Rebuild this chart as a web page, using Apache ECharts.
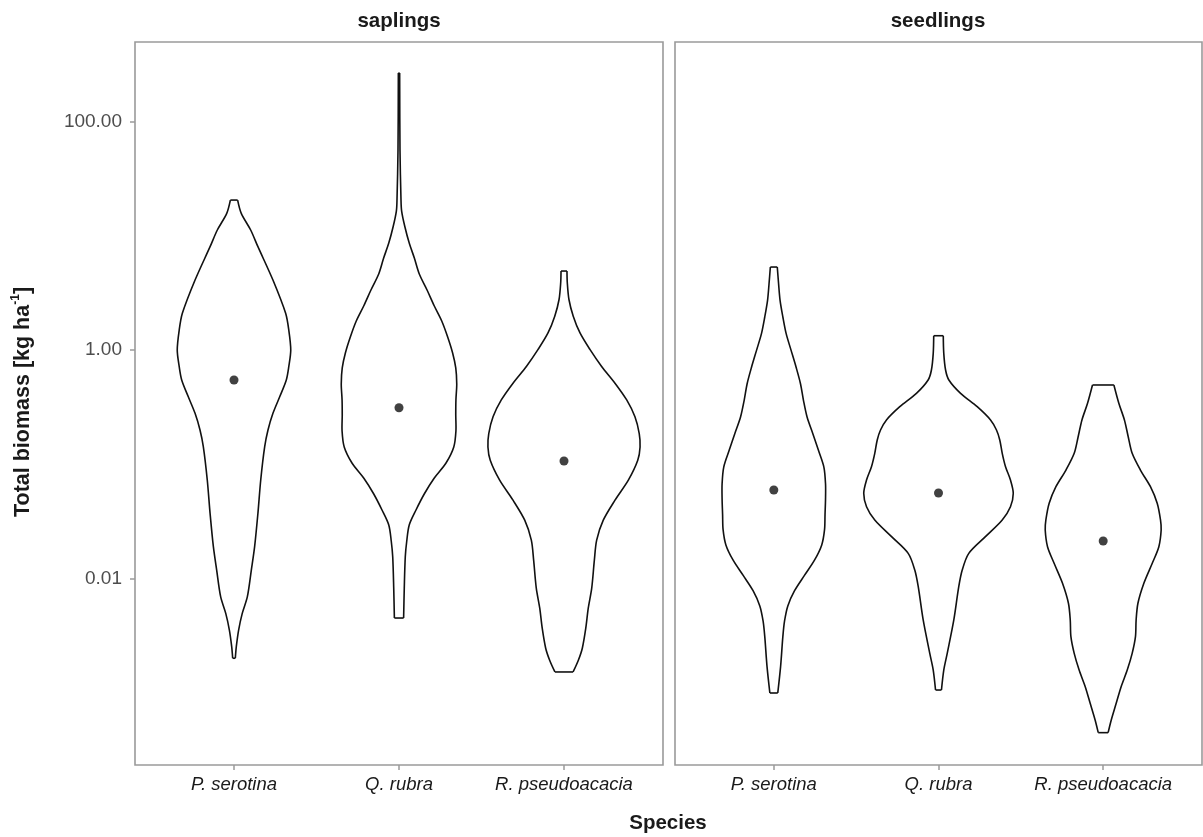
<!DOCTYPE html>
<html>
<head>
<meta charset="utf-8">
<script src="https://cdn.jsdelivr.net/npm/echarts@6/dist/echarts.min.js"></script>
<style>
  html, body { margin: 0; padding: 0; background: #fff; }
  #chart { width: 1203px; height: 837px; }
</style>
</head>
<body>
<div id="chart"></div>
<script>
// Species on the x axis of each facet
const speciesNames = ['P. serotina', 'Q. rubra', 'R. pseudoacacia'];
const panelTitles = ['saplings', 'seedlings'];
// Tick positions on the y axis, as log10 of biomass (0.01, 1, 100)
const yTickExponents = [-2, 0, 2];

// Violin outlines: [log10 biomass, half-width in category units], top to bottom
const saplingsSerotina = [
  [1.312, 0.022], [1.196, 0.044], [1.050, 0.101], [0.904, 0.145], [0.612, 0.236],
  [0.321, 0.313], [0.175, 0.332], [0.000, 0.344], [-0.146, 0.332], [-0.262, 0.317],
  [-0.409, 0.277], [-0.554, 0.236], [-0.700, 0.206], [-0.846, 0.186], [-1.137, 0.162],
  [-1.429, 0.145], [-1.721, 0.125], [-1.925, 0.105], [-2.158, 0.081], [-2.304, 0.050],
  [-2.450, 0.028], [-2.596, 0.014], [-2.697, 0.008]
];
const saplingsRubra = [
  [2.423, 0.004], [1.750, 0.006], [1.321, 0.012], [1.216, 0.016], [1.076, 0.036],
  [0.936, 0.062], [0.805, 0.093], [0.665, 0.123], [0.525, 0.170], [0.385, 0.214],
  [0.254, 0.259], [0.114, 0.295], [-0.026, 0.325], [-0.157, 0.344], [-0.297, 0.350],
  [-0.437, 0.345], [-0.569, 0.344], [-0.709, 0.345], [-0.849, 0.332], [-0.989, 0.285],
  [-1.120, 0.214], [-1.260, 0.153], [-1.400, 0.103], [-1.531, 0.062], [-1.671, 0.047],
  [-1.811, 0.038], [-2.082, 0.032], [-2.345, 0.028]
];
const saplingsPseudoacacia = [
  [0.691, 0.018], [0.589, 0.020], [0.442, 0.030], [0.296, 0.056], [0.149, 0.097],
  [0.003, 0.158], [-0.144, 0.228], [-0.290, 0.309], [-0.437, 0.380], [-0.584, 0.430],
  [-0.731, 0.456], [-0.848, 0.461], [-0.965, 0.447], [-1.139, 0.390], [-1.314, 0.309],
  [-1.489, 0.238], [-1.664, 0.198], [-1.839, 0.184], [-2.084, 0.168], [-2.259, 0.147],
  [-2.434, 0.132], [-2.609, 0.111], [-2.714, 0.087], [-2.817, 0.055]
];
const seedlingsSerotina = [
  [0.726, 0.021], [0.580, 0.029], [0.435, 0.038], [0.289, 0.055], [0.143, 0.075],
  [-0.003, 0.105], [-0.149, 0.135], [-0.295, 0.162], [-0.440, 0.180], [-0.586, 0.202],
  [-0.732, 0.237], [-0.878, 0.271], [-1.024, 0.304], [-1.170, 0.314], [-1.305, 0.314],
  [-1.438, 0.311], [-1.572, 0.308], [-1.705, 0.291], [-1.839, 0.247], [-1.972, 0.186],
  [-2.106, 0.126], [-2.239, 0.085], [-2.373, 0.065], [-2.506, 0.055], [-2.773, 0.041],
  [-3.001, 0.024]
];
const seedlingsRubra = [
  [0.125, 0.029], [-0.029, 0.032], [-0.175, 0.043], [-0.262, 0.063], [-0.379, 0.134],
  [-0.496, 0.235], [-0.612, 0.316], [-0.700, 0.352], [-0.787, 0.372], [-0.904, 0.387],
  [-1.021, 0.407], [-1.137, 0.437], [-1.254, 0.454], [-1.371, 0.437], [-1.487, 0.387],
  [-1.633, 0.285], [-1.779, 0.184], [-1.925, 0.144], [-2.071, 0.123], [-2.362, 0.093],
  [-2.654, 0.053], [-2.800, 0.032], [-2.975, 0.018]
];
const seedlingsPseudoacacia = [
  [-0.306, 0.065], [-0.466, 0.095], [-0.612, 0.129], [-0.759, 0.152], [-0.904, 0.176],
  [-1.050, 0.226], [-1.196, 0.287], [-1.341, 0.328], [-1.487, 0.348], [-1.575, 0.352],
  [-1.721, 0.338], [-1.866, 0.298], [-2.041, 0.247], [-2.216, 0.211], [-2.362, 0.200],
  [-2.508, 0.196], [-2.654, 0.176], [-2.800, 0.146], [-2.946, 0.109], [-3.091, 0.079],
  [-3.237, 0.049], [-3.348, 0.030]
];

// Central value of each group (log10 biomass)
const saplingsCentre = [-0.262, -0.505, -0.971];
const seedlingsCentre = [-1.225, -1.251, -1.671];

const panels = [
  { profiles: [saplingsSerotina, saplingsRubra, saplingsPseudoacacia], centre: saplingsCentre },
  { profiles: [seedlingsSerotina, seedlingsRubra, seedlingsPseudoacacia], centre: seedlingsCentre }
];

const FONT = '"Liberation Sans", Arial, Helvetica, sans-serif';
const FRAME = '#9a9a9a';
const TICK_TEXT = '#4d4d4d';
const INK = '#111111';

// One violin: smoothed left and right flanks joined by flat ends
function violinSeries(profile, cat, panelIndex) {
  return {
    type: 'custom',
    xAxisIndex: panelIndex,
    yAxisIndex: panelIndex,
    data: profile.map(p => [cat, p[0], p[1]]),
    silent: true,
    renderItem: function (params, api) {
      if (params.dataIndex !== 0) return null;
      const right = profile.map(p => api.coord([cat + p[1], p[0]]));
      const left = profile.map(p => api.coord([cat - p[1], p[0]]));
      const n = profile.length - 1;
      const line = { stroke: INK, lineWidth: 1.6, fill: null };
      return {
        type: 'group',
        children: [
          { type: 'polyline', shape: { points: right, smooth: 0.3 }, style: line },
          { type: 'polyline', shape: { points: left, smooth: 0.3 }, style: line },
          { type: 'line', shape: { x1: left[0][0], y1: left[0][1], x2: right[0][0], y2: right[0][1] }, style: line },
          { type: 'line', shape: { x1: left[n][0], y1: left[n][1], x2: right[n][0], y2: right[n][1] }, style: line }
        ]
      };
    }
  };
}

const grids = [
  { left: 135, top: 42, width: 528, height: 723 },
  { left: 675, top: 42, width: 527, height: 723 }
].map(g => Object.assign(g, {
  show: true, borderColor: FRAME, borderWidth: 1.6, backgroundColor: '#ffffff'
}));

const xAxes = panels.map((p, i) => ({
  type: 'value', gridIndex: i, min: 0.4, max: 3.6, position: 'bottom',
  splitLine: { show: false },
  axisLine: { show: false, onZero: false },
  axisTick: { show: true, customValues: [1, 2, 3], length: 5, lineStyle: { color: FRAME, width: 1.5 } },
  axisLabel: {
    show: true, customValues: [1, 2, 3], margin: 10,
    formatter: v => speciesNames[Math.round(v) - 1],
    color: '#1a1a1a', fontSize: 18.5, fontStyle: 'italic', fontFamily: FONT
  }
}));

const yAxes = panels.map((p, i) => ({
  type: 'value', gridIndex: i, min: -3.631, max: 2.695, position: 'left',
  splitLine: { show: false },
  axisLine: { show: false, onZero: false },
  axisTick: { show: i === 0, customValues: yTickExponents, length: 5, lineStyle: { color: FRAME, width: 1.5 } },
  axisLabel: {
    show: i === 0, customValues: yTickExponents, margin: 13,
    formatter: v => Math.pow(10, v).toFixed(2),
    color: TICK_TEXT, fontSize: 19, fontFamily: FONT
  }
}));

const series = [];
panels.forEach((panel, pi) => {
  panel.profiles.forEach((prof, ci) => series.push(violinSeries(prof, ci + 1, pi)));
  series.push({
    type: 'scatter', xAxisIndex: pi, yAxisIndex: pi, silent: true,
    symbol: 'circle', symbolSize: 9,
    itemStyle: { color: INK },
    data: panel.centre.map((v, ci) => [ci + 1, v])
  });
});

const titleStyle = { fontFamily: FONT, fontSize: 20.5, fontWeight: 'bold', fill: '#1a1a1a', align: 'center', verticalAlign: 'middle' };

const chart = echarts.init(document.getElementById('chart'), null, { renderer: 'canvas' });
chart.setOption({
  animation: false,
  backgroundColor: '#ffffff',
  grid: grids,
  xAxis: xAxes,
  yAxis: yAxes,
  series: series,
  graphic: [
    { type: 'text', x: 399, y: 21, style: Object.assign({ text: panelTitles[0] }, titleStyle) },
    { type: 'text', x: 938, y: 21, style: Object.assign({ text: panelTitles[1] }, titleStyle) },
    { type: 'text', x: 668, y: 823, style: Object.assign({ text: 'Species' }, titleStyle) },
    {
      type: 'text', x: 23, y: 402, rotation: Math.PI / 2,
      style: {
        text: '{t|Total biomass [kg ha}{s|-1}{t|]}',
        align: 'center', verticalAlign: 'middle',
        rich: {
          t: { fontFamily: FONT, fontSize: 21.5, fontWeight: 'bold', fill: '#1a1a1a', lineHeight: 26 },
          s: { fontFamily: FONT, fontSize: 12, fontWeight: 'bold', fill: '#1a1a1a', lineHeight: 26, verticalAlign: 'top' }
        }
      }
    }
  ]
});
</script>
</body>
</html>
